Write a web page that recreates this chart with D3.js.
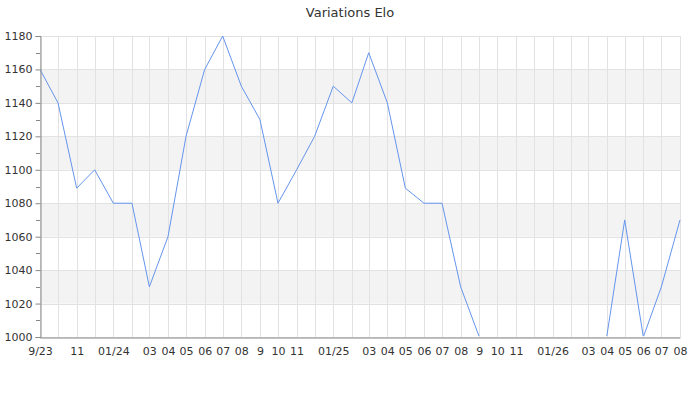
<!DOCTYPE html>
<html><head><meta charset="utf-8">
<script src="https://cdn.jsdelivr.net/npm/d3@7"></script>
<style>body{margin:0;background:#fff}svg{display:block}text{font-family:"DejaVu Sans",sans-serif}</style>
</head><body><svg id="c" width="700" height="400"></svg>
<script>
const title = "Variations Elo";
const months = ["2023-09","2023-10","2023-11","2023-12","2024-01","2024-02","2024-03","2024-04","2024-05","2024-06","2024-07","2024-08","2024-09","2024-10","2024-11","2024-12","2025-01","2025-02","2025-03","2025-04","2025-05","2025-06","2025-07","2025-08","2025-09","2025-10","2025-11","2025-12","2026-01","2026-02","2026-03","2026-04","2026-05","2026-06","2026-07","2026-08"];
const elo = [1160,1140,1089,1100,1080,1080,1030,1060,1120,1160,1180,1150,1130,1080,1100,1120,1150,1140,1170,1140,1089,1080,1080,1030,1000,1000,1000,1000,1000,1000,1000,1000,1070,1000,1030,1070];
const xLabels = ["9/23","","11","","01/24","","03","04","05","06","07","08","9","10","11","","01/25","","03","04","05","06","07","08","9","10","11","","01/26","","03","04","05","06","07","08"];
const yTicks = [1000,1020,1040,1060,1080,1100,1120,1140,1160,1180];
const yMinor = [1010,1030,1050,1070,1090,1110,1130,1150,1170];
const bands = [[1020,1040],[1060,1080],[1100,1120],[1140,1160]];

const svg = d3.select("#c");
const L=40,R=680,T=36,B=337;
const parse = d3.timeParse("%Y-%m");
const dates = months.map(parse);
const x = d3.scaleTime().domain([dates[0], dates[dates.length-1]]).range([L,R]);
const y = d3.scaleLinear().domain([1000,1180]).range([B,T]);

svg.append("defs").append("clipPath").attr("id","plot")
  .append("rect").attr("x",L).attr("y",T-3).attr("width",R-L+3).attr("height",B-T+3-1);

svg.append("text").attr("x",350).attr("y",17).attr("text-anchor","middle")
  .attr("font-size",13).attr("fill","#333").text(title);

svg.append("g").selectAll("rect").data(bands).join("rect")
  .attr("x",L).attr("width",R-L).attr("y",d=>y(d[1])).attr("height",d=>y(d[0])-y(d[1]))
  .attr("fill","#f3f3f3");

svg.append("g").selectAll("line").data(yTicks).join("line")
  .attr("x1",L).attr("x2",R).attr("y1",d=>Math.round(y(d))+0.5).attr("y2",d=>Math.round(y(d))+0.5)
  .attr("stroke","#e2e2e2");
svg.append("g").selectAll("line").data(dates).join("line")
  .attr("y1",T).attr("y2",B).attr("x1",d=>Math.round(x(d))+0.5).attr("x2",d=>Math.round(x(d))+0.5)
  .attr("stroke","#e2e2e2");

const line = d3.line().x((d,i)=>x(dates[i])).y(d=>y(d));
svg.append("path").datum(elo).attr("d",line).attr("fill","none").attr("clip-path","url(#plot)")
  .attr("stroke","#6495ed").attr("stroke-width",1);

// y axis
const yAxis = d3.axisLeft(y).tickValues(yTicks).tickSize(5).tickPadding(3).tickFormat(d3.format("d"));
const gy = svg.append("g").attr("transform",`translate(${L+0.5},0)`).call(yAxis);
gy.select(".domain").attr("stroke","#888");
gy.selectAll(".tick line").attr("stroke","#888");
gy.selectAll("text").attr("font-size",11).attr("fill","#333").attr("font-family","DejaVu Sans");
svg.append("g").selectAll("line").data(yMinor).join("line")
  .attr("x1",L-4).attr("x2",L).attr("y1",d=>Math.round(y(d))+0.5).attr("y2",d=>Math.round(y(d))+0.5)
  .attr("stroke","#888");

// x axis
const xAxis = d3.axisBottom(x).tickValues(dates).tickSize(0).tickPadding(10)
  .tickFormat((d,i)=>xLabels[i]);
const gx = svg.append("g").attr("transform",`translate(0,${B+0.5})`).call(xAxis);
gx.select(".domain").attr("stroke","#888");
gx.selectAll("text").attr("font-size",11).attr("fill","#333").attr("font-family","DejaVu Sans");
</script></body></html>
